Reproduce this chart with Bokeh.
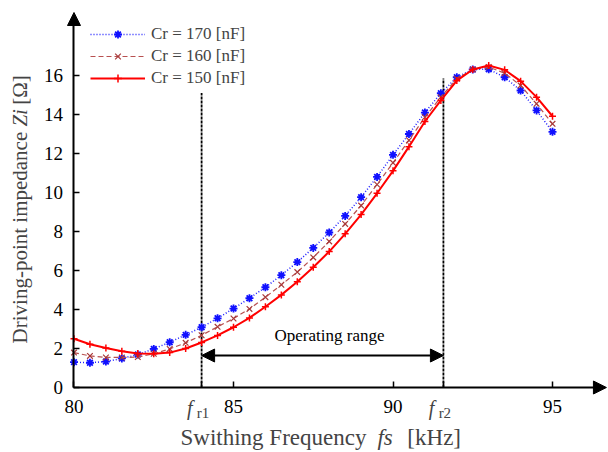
import math
from bokeh.plotting import figure
from bokeh.models import (Range1d, FixedTicker, Label, Arrow, NormalHead, Legend, LegendItem)
from bokeh.embed import file_html
from bokeh.resources import INLINE

# ---- data ----
freq = [80.0, 80.5, 81.0, 81.5, 82.0, 82.5, 83.0, 83.5, 84.0, 84.5, 85.0, 85.5,
        86.0, 86.5, 87.0, 87.5, 88.0, 88.5, 89.0, 89.5, 90.0, 90.5, 91.0, 91.5,
        92.0, 92.5, 93.0, 93.5, 94.0, 94.5, 95.0]
zi_170 = [1.30, 1.27, 1.33, 1.49, 1.69, 1.98, 2.32, 2.70, 3.09, 3.55, 4.05, 4.58,
          5.14, 5.76, 6.43, 7.16, 7.95, 8.80, 9.76, 10.80, 11.93, 13.00, 14.10, 15.09,
          15.91, 16.31, 16.32, 15.91, 15.23, 14.21, 13.11]
zi_160 = [1.79, 1.62, 1.54, 1.54, 1.56, 1.73, 1.98, 2.29, 2.68, 3.11, 3.54, 4.03,
          4.63, 5.27, 5.92, 6.67, 7.49, 8.39, 9.33, 10.41, 11.52, 12.68, 13.86, 14.89,
          15.83, 16.31, 16.43, 16.12, 15.49, 14.55, 13.52]
zi_150 = [2.50, 2.22, 2.03, 1.86, 1.74, 1.73, 1.79, 2.00, 2.31, 2.67, 3.09, 3.57,
          4.14, 4.75, 5.42, 6.17, 6.97, 7.88, 8.87, 9.96, 11.11, 12.35, 13.64, 14.72,
          15.74, 16.31, 16.51, 16.29, 15.71, 14.89, 13.91]
series_labels = ["Cr = 170 [nF]", "Cr = 160 [nF]", "Cr = 150 [nF]"]

x_ticks = [80, 85, 90, 95]
y_ticks = [0, 2, 4, 6, 8, 10, 12, 14, 16]
fr1 = 84.0
fr2 = 91.58
fr_line_tops = [15.1, 15.85]
range_arrow_y = 1.64
x_axis_end = 96.69
y_axis_end = 19.23

FONT = "Liberation Serif"

p = figure(width=608, height=452, output_backend="svg", toolbar_location=None,
           x_range=Range1d(77.696, 96.755), y_range=Range1d(-3.333, 19.846),
           min_border_left=0, min_border_right=0, min_border_top=0, min_border_bottom=0)
p.outline_line_color = None
p.xgrid.visible = False
p.ygrid.visible = False

# axes (drawn inside the frame at the origin)
xa = p.xaxis[0]
ya = p.yaxis[0]
xa.fixed_location = 0
ya.fixed_location = 80
xa.bounds = (80, x_axis_end - 0.2)
ya.bounds = (0, y_axis_end - 0.4)
all_x_ticks = x_ticks + [fr1, fr2]
xa.ticker = FixedTicker(ticks=all_x_ticks)
overrides = {t: str(t) for t in x_ticks}
overrides[fr1] = ""
overrides[fr2] = ""
xa.major_label_overrides = overrides
ya.ticker = FixedTicker(ticks=y_ticks)
for ax in (xa, ya):
    ax.axis_line_width = 2
    ax.axis_line_color = "black"
    ax.major_tick_in = 6
    ax.major_tick_out = 0
    ax.minor_tick_line_color = None
    ax.major_tick_line_width = 1.5
    ax.major_tick_line_color = "black"
    ax.major_label_text_font = FONT
    ax.major_label_text_font_size = "19px"
    ax.major_label_text_color = "black"
xa.major_label_standoff = 12
ya.major_label_standoff = 11

# axis arrowheads
p.add_layout(Arrow(end=NormalHead(size=13, fill_color="black", line_color="black"),
                   x_start=96.0, y_start=0, x_end=x_axis_end, y_end=0, line_alpha=0))
p.add_layout(Arrow(end=NormalHead(size=13, fill_color="black", line_color="black"),
                   x_start=80, y_start=18.3, x_end=80, y_end=y_axis_end, line_alpha=0))

# vertical lines at resonance
p.segment(x0=[fr1, fr2], y0=[0, 0], x1=[fr1, fr2], y1=fr_line_tops,
          line_color="black", line_width=1.8, line_dash="3 1")

# operating range arrow
p.add_layout(Arrow(start=NormalHead(size=13, fill_color="black", line_color="black"),
                   end=NormalHead(size=13, fill_color="black", line_color="black"),
                   x_start=fr1, y_start=range_arrow_y, x_end=fr2, y_end=range_arrow_y,
                   line_width=2, line_color="black"))
p.add_layout(Label(x=88.01, y=2.67, text="Operating range",
                   text_font=FONT, text_font_size="17px", text_align="center",
                   text_baseline="middle", text_color="black"))

# series
l1 = p.line(freq, zi_170, line_color="#2020FF", line_width=1.5, line_dash="1 2")
m1 = p.scatter(freq, zi_170, marker="asterisk", size=8, line_color="#1010FF", line_width=1.8)
l2 = p.line(freq, zi_160, line_color="#B85050", line_width=1.2, line_dash="5 3")
m2 = p.scatter(freq, zi_160, marker="x", size=8, line_color="#A83838", line_width=1.2)
l3 = p.line(freq, zi_150, line_color="#FF0000", line_width=2)
m3 = p.scatter(freq, zi_150, marker="cross", size=7, line_color="#FF0000", line_width=1.5)

legend = Legend(items=[LegendItem(label=series_labels[0], renderers=[l1, m1]),
                       LegendItem(label=series_labels[1], renderers=[l2, m2]),
                       LegendItem(label=series_labels[2], renderers=[l3, m3])],
                location=(90, 364), glyph_width=55, glyph_height=20, spacing=2,
                margin=0, padding=0, label_standoff=6,
                label_text_font=FONT, label_text_font_size="17px",
                border_line_alpha=0, background_fill_alpha=0)
p.add_layout(legend)

# fr tick labels
for fx, sub in ((fr1, "r1"), (fr2, "r2")):
    p.add_layout(Label(x=fx - 0.46, y=-1.05, text="f", text_font=FONT, text_font_size="20px",
                       text_font_style="italic", text_align="left", text_baseline="middle"))
    p.add_layout(Label(x=fx - 0.15, y=-1.3, text=sub, text_font=FONT, text_font_size="15px",
                       text_align="left", text_baseline="middle"))

# x axis title
xl_y = -2.56
p.add_layout(Label(x=83.34, y=xl_y, text="Swithing Frequency", text_font=FONT,
                   text_font_size="23px", text_align="left", text_baseline="middle"))
p.add_layout(Label(x=89.51, y=xl_y, text="fs", text_font=FONT, text_font_style="italic",
                   text_font_size="23px", text_align="left", text_baseline="middle"))
p.add_layout(Label(x=90.45, y=xl_y, text="[kHz]", text_font=FONT,
                   text_font_size="23px", text_align="left", text_baseline="middle"))

# y axis title
yl_x = 78.32
for yy, txt, style in ((2.26, "Driving-point impedance", "normal"),
                       (13.38, "Zi", "italic"),
                       (14.5, "[Ω]", "normal")):
    p.add_layout(Label(x=yl_x, y=yy, text=txt, text_font=FONT, text_font_style=style,
                       text_font_size="21px", text_align="left", text_baseline="middle",
                       angle=math.pi / 2))

open("out.html", "w").write(file_html(p, INLINE))
